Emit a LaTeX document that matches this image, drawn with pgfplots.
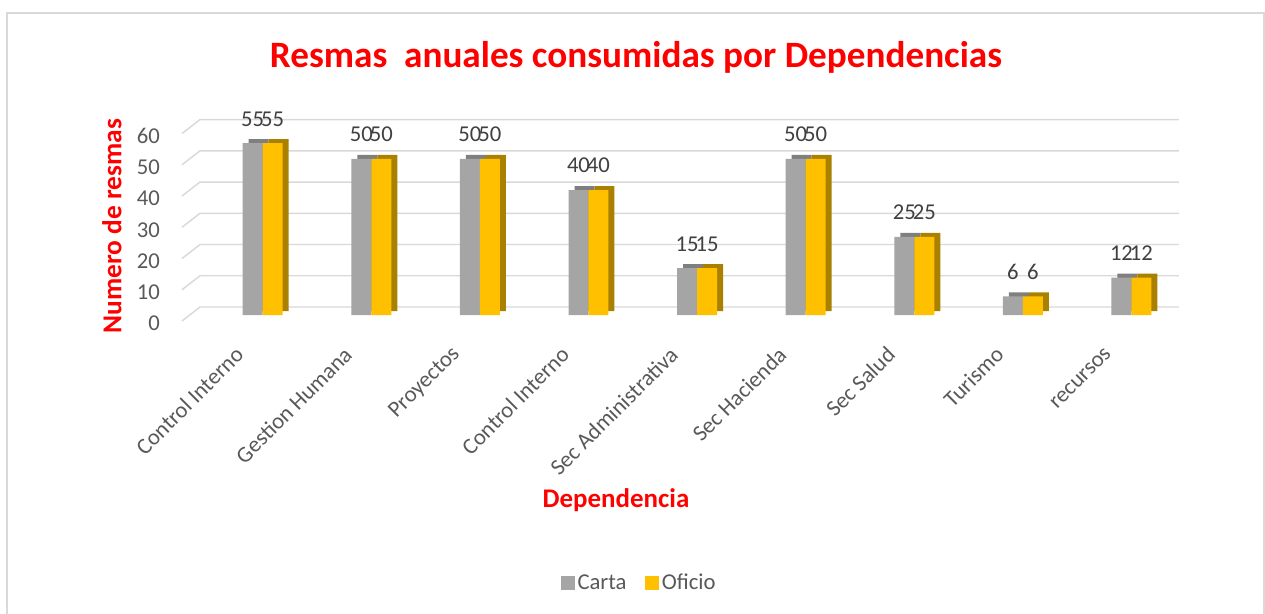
\documentclass[border=0pt]{standalone}
\usepackage{pgfplots}
\pgfplotsset{compat=1.18}
\usepackage{fontspec}
\setmainfont{Carlito}
\definecolor{cartac}{HTML}{A5A5A5}
\definecolor{cartad}{HTML}{7F7F7F}
\definecolor{oficioc}{HTML}{FFC000}
\definecolor{oficiod}{HTML}{A98000}
\definecolor{gridc}{HTML}{D9D9D9}
\definecolor{tickc}{HTML}{595959}
\definecolor{labc}{HTML}{404040}
\definecolor{redc}{HTML}{FF0000}
\pgfplotstableread{
x carta oficio
0 55 55
1 50 50
2 50 50
3 40 40
4 15 15
5 50 50
6 25 25
7 6 6
8 12 12
}\datatab
\begin{document}
\begin{tikzpicture}
\useasboundingbox (0,0) rectangle (948.75pt,460.5pt);
\draw[gridc, line width=1.1pt] (5.25pt,450.75pt) rectangle (948pt,-5pt);
\node[text=redc, font=\fontsize{27.9}{33}\selectfont\bfseries] at (477pt,417.75pt) {Resmas\ \ anuales consumidas por Dependencias};
\node[text=redc, font=\fontsize{20.5}{24}\selectfont\bfseries, rotate=90] at (84pt,291pt) {Numero de resmas};
\node[text=redc, font=\fontsize{20.2}{24}\selectfont\bfseries] at (462pt,85.5pt) {Dependencia};
\begin{axis}[
  at={(136.5pt,219.75pt)}, anchor=south west,
  scale only axis, width=747.7pt, height=151.1pt,
  xmin=-0.743, xmax=8.437, ymin=-1.92, ymax=62.56,
  clip=false,
  axis line style={draw=none}, major tick length=0pt,
  ytick={-1.92,8.08,18.08,28.08,38.08,48.08,58.08},
  yticklabels={0,10,20,30,40,50,60},
  xtick={0,...,8},
  xticklabels={Control Interno,Gestion Humana,Proyectos,Control Interno,Sec Administrativa,Sec Hacienda,Sec Salud,Turismo,recursos},
  /pgf/number format/assume math mode=true,
  tick label style={font=\fontsize{17}{20}\selectfont, text=tickc},
  yticklabel style={xshift=-13pt, yshift=-2pt},
  xticklabel style={xshift=-15pt, yshift=-20pt, rotate=45, anchor=east},
  ybar, bar width=0.184,
  legend style={at={(0.459,-1.30)}, anchor=center, draw=none, legend columns=-1,
    font=\fontsize{17}{20}\selectfont, text=tickc,
    /tikz/every even column/.append style={column sep=12pt}},
  legend image code/.code={\fill[#1] (0pt,-5.25pt) rectangle (10.5pt,5.25pt);},
]
\addplot[gridc, line width=1.1pt, forget plot, sharp plot] coordinates {(-0.743,-1.92) (-0.577,2.56) (8.437,2.56)};
\addplot[gridc, line width=1.1pt, forget plot, sharp plot] coordinates {(-0.743,8.08) (-0.577,12.56) (8.437,12.56)};
\addplot[gridc, line width=1.1pt, forget plot, sharp plot] coordinates {(-0.743,18.08) (-0.577,22.56) (8.437,22.56)};
\addplot[gridc, line width=1.1pt, forget plot, sharp plot] coordinates {(-0.743,28.08) (-0.577,32.56) (8.437,32.56)};
\addplot[gridc, line width=1.1pt, forget plot, sharp plot] coordinates {(-0.743,38.08) (-0.577,42.56) (8.437,42.56)};
\addplot[gridc, line width=1.1pt, forget plot, sharp plot] coordinates {(-0.743,48.08) (-0.577,52.56) (8.437,52.56)};
\addplot[gridc, line width=1.1pt, forget plot, sharp plot] coordinates {(-0.743,58.08) (-0.577,62.56) (8.437,62.56)};
% 3D depth (shadow) faces
\addplot[forget plot, fill=cartad, draw=none, bar shift=-0.092, xshift=4.5pt, yshift=3pt] table[x=x,y=carta] {\datatab};
\addplot[forget plot, fill=oficiod, draw=none, bar shift=0.092, xshift=4.5pt, yshift=3pt] table[x=x,y=oficio] {\datatab};
% front faces
\addplot[fill=cartac, draw=none, bar shift=-0.092,
  nodes near coords, every node near coord/.append style={font=\fontsize{17}{20}\selectfont, text=labc, inner sep=0pt, yshift=12.5pt}] table[x=x,y=carta] {\datatab};
\addlegendentry{Carta}
\addplot[fill=oficioc, draw=none, bar shift=0.092,
  nodes near coords, every node near coord/.append style={font=\fontsize{17}{20}\selectfont, text=labc, inner sep=0pt, yshift=12.5pt}] table[x=x,y=oficio] {\datatab};
\addlegendentry{Oficio}
\end{axis}
\end{tikzpicture}
\end{document}
